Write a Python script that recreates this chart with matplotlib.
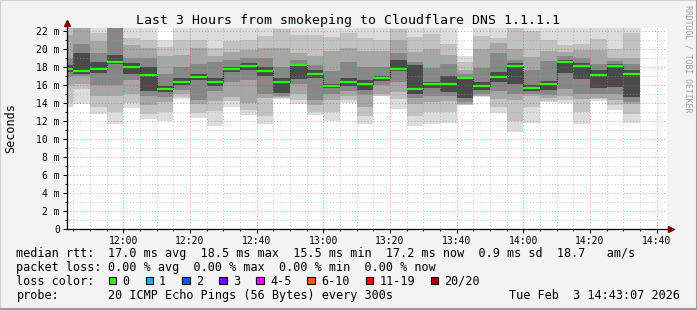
import numpy as np
import pandas as pd
import matplotlib
matplotlib.use('Agg')
import matplotlib.pyplot as plt
from matplotlib.ticker import MultipleLocator, FuncFormatter
from matplotlib.patches import Rectangle
from matplotlib.lines import Line2D

# start time of each 5 minute step (one smoke column each)
step_times = pd.date_range('2026-02-03 11:40', '2026-02-03 14:30', freq='5min')

# sorted ping times (ms) per step: 20 pings, we keep the band edges
ping_01 = [13.5, 13.85, 12.7, 11.6, 13.4, 12.2, 12.0, 14.4, 12.3, 11.4, 13.5, 12.6, 11.6, 14.4, 13.9, 12.6, 12.0, 14.0,
           11.6, 14.7, 13.3, 11.4, 11.6, 11.7, 13.7, 14.6, 12.9, 10.7, 11.8, 14.1, 14.0, 11.6, 14.2, 13.2, 11.8]
ping_03 = [14.0, 15.5, 13.5, 13.0, 14.0, 12.8, 13.0, 14.6, 12.9, 13.1, 14.2, 13.2, 12.5, 14.5, 14.3, 13.0, 13.0, 14.3,
           12.5, 14.8, 14.4, 12.5, 13.0, 13.0, 13.8, 14.7, 13.5, 12.0, 13.5, 14.2, 14.3, 13.0, 14.4, 13.8, 12.8]
ping_05 = [16.0, 16.1, 14.8, 14.7, 15.0, 13.7, 14.1, 15.0, 13.9, 14.2, 14.6, 14.0, 14.5, 14.6, 15.0, 13.8, 14.3, 14.7,
           13.5, 15.0, 15.2, 13.9, 14.1, 14.2, 13.9, 14.8, 14.4, 14.3, 14.8, 14.5, 14.8, 14.4, 14.5, 14.3, 13.9]
ping_07 = [16.9, 17.0, 16.0, 16.0, 16.5, 14.8, 14.6, 15.4, 14.3, 15.3, 16.3, 16.5, 15.0, 14.8, 16.1, 14.3, 15.0, 15.3,
           14.9, 16.0, 16.3, 14.5, 14.7, 14.8, 14.1, 15.0, 15.3, 15.0, 15.0, 14.9, 15.5, 15.0, 15.0, 15.0, 14.1]
ping_09 = [17.4, 17.2, 17.3, 18.3, 17.2, 15.3, 15.2, 16.0, 16.5, 15.9, 17.4, 17.6, 17.0, 15.1, 16.6, 16.8, 15.6, 15.9,
           15.4, 16.4, 17.5, 15.0, 15.6, 15.2, 14.5, 15.4, 16.3, 16.1, 15.3, 15.4, 17.3, 16.6, 15.6, 15.8, 14.6]
median_rtt = [17.8, 17.52, 17.78, 18.5, 18.0, 17.1, 15.56, 16.3, 16.9, 16.3, 17.78, 18.1, 17.5, 16.3, 18.2, 17.2, 15.85, 16.3,
              16.07, 16.8, 17.78, 15.52, 16.07, 16.07, 16.74, 15.85, 16.9, 18.1, 15.67, 16.07, 18.5, 18.07, 17.1, 18.07, 17.2]
ping_12 = [18.2, 19.5, 18.5, 19.3, 18.4, 18.0, 15.9, 16.7, 17.2, 16.8, 18.0, 18.4, 18.0, 16.8, 18.3, 17.6, 16.1, 16.8,
           16.5, 17.0, 18.8, 18.2, 16.3, 17.0, 16.9, 16.3, 17.4, 18.4, 16.0, 16.4, 18.8, 18.4, 17.6, 18.3, 17.6]
ping_14 = [19.0, 20.5, 19.5, 22.4, 19.0, 19.0, 17.2, 18.0, 18.3, 18.5, 18.7, 19.0, 19.0, 18.0, 18.8, 18.2, 17.5, 18.5,
           18.0, 18.0, 19.5, 18.5, 17.9, 18.3, 17.2, 17.9, 19.5, 18.7, 17.6, 18.6, 19.2, 19.0, 18.3, 18.6, 18.3]
ping_16 = [21.5, 23.0, 20.9, 23.0, 20.4, 20.1, 19.2, 19.3, 20.1, 19.2, 19.6, 19.9, 20.1, 20.1, 19.5, 19.2, 19.8, 20.1,
           19.8, 19.8, 21.0, 19.6, 20.0, 19.3, 17.6, 20.0, 20.6, 20.0, 19.1, 19.7, 19.6, 19.9, 19.9, 19.0, 19.0]
ping_18 = [23.0, 23.0, 21.8, 23.0, 21.2, 21.0, 20.2, 21.0, 21.0, 20.1, 20.9, 21.0, 21.4, 22.2, 21.5, 21.5, 21.3, 21.8,
           21.2, 21.0, 22.2, 21.3, 21.6, 20.5, 18.5, 21.4, 21.2, 22.8, 22.0, 21.0, 20.4, 20.5, 21.1, 20.0, 21.8]
ping_20 = [23.0, 23.0, 22.5, 23.0, 23.0, 23.0, 21.0, 23.0, 23.0, 23.0, 23.0, 23.0, 23.0, 23.0, 23.0, 23.0, 23.0, 23.0,
           23.0, 23.0, 23.0, 23.0, 23.0, 23.0, 19.2, 23.0, 23.0, 23.0, 23.0, 23.0, 23.0, 23.0, 23.0, 23.0, 23.0]

rtt_stats = ['17.0 ms avg', '18.5 ms max', '15.5 ms min', '17.2 ms now', '0.9 ms sd', '18.7   am/s']
loss_stats = ['0.00 % avg', '0.00 % max', '0.00 % min', '0.00 % now']
loss_labels = ['0', '1', '2', '3', '4-5', '6-10', '11-19', '20/20']
loss_colors = ['#26ff00', '#00b8ff', '#0059ff', '#7e00ff', '#ff00ff', '#ff5500', '#ff0000', '#a10000']
probe_text = '20 ICMP Echo Pings (56 Bytes) every 300s'
stamp_text = 'Tue Feb  3 14:43:07 2026'

W, H = 697, 310
MONO = 'DejaVu Sans Mono'
plt.rcParams['font.family'] = MONO


def fx(px):
    return px / W


def fy(py):
    return 1 - py / H


fig = plt.figure(figsize=(W / 100, H / 100), dpi=100, facecolor='#f3f3f3')
ax = fig.add_axes([fx(67), fy(228.7), 600 / W, 200.4 / H])
ax.set_facecolor('white')

# minutes since midnight
x = np.array([t.hour * 60 + t.minute for t in step_times], dtype=float)
t_end = 14 * 60 + 43 + 7 / 60

# smoke: outer bands light, inner bands dark
bands = [
    (ping_01, ping_20, '#dcdcdc'),
    (ping_03, ping_18, '#c2c2c2'),
    (ping_05, ping_16, '#a6a6a6'),
    (ping_07, ping_14, '#878787'),
    (ping_09, ping_12, '#4a4a4a'),
]
for lo, hi, col in bands:
    lo = np.array(lo)
    hi = np.array(hi)
    ax.bar(x, hi - lo, width=5, bottom=lo, align='edge', color=col,
           linewidth=0, antialiased=False, zorder=1)

# median line
med = np.array(median_rtt)
ax.step(np.r_[x, x[-1] + 5], np.r_[med, med[-1]], where='post', color='#202020',
        lw=0.8, ls=(0, (1, 1)), zorder=3)
ax.hlines(med, x, x + 5, color=loss_colors[0], lw=1.6, zorder=4)

ax.set_xlim(t_end - 180, t_end)
ax.set_ylim(0, 22.27)

ax.xaxis.set_major_locator(MultipleLocator(20))
ax.xaxis.set_minor_locator(MultipleLocator(5))
ax.yaxis.set_major_locator(MultipleLocator(2))
ax.yaxis.set_minor_locator(MultipleLocator(1))
ax.xaxis.set_major_formatter(FuncFormatter(lambda v, p: f"{int(v // 60)}:{int(round(v % 60)):02d}"))
ax.yaxis.set_major_formatter(FuncFormatter(lambda v, p: '0' if v == 0 else f"{v:.0f} m"))

ax.set_axisbelow(False)
ax.grid(which='major', color='#ff3030', alpha=0.5, lw=0.75, ls=(0, (1, 2)))
ax.grid(which='minor', color='#a0a0a0', alpha=0.55, lw=0.75, ls=(0, (1, 2)))

ax.tick_params(which='major', length=2.9, width=0.75, direction='out', labelsize=7, pad=2.2)
ax.tick_params(which='minor', length=1.4, width=0.75, direction='out')
ax.tick_params(axis='x', which='major', pad=2.5)
for s in ['top', 'right']:
    ax.spines[s].set_visible(False)
for s in ['left', 'bottom']:
    ax.spines[s].set_linewidth(0.9)
    ax.spines[s].set_zorder(5)

# axis arrows
ax.plot([0, 0], [1, 1.02], transform=ax.transAxes, color='black', lw=0.9, clip_on=False)
ax.plot([1, 1.003], [0, 0], transform=ax.transAxes, color='black', lw=0.9, clip_on=False)
ax.plot([0], [1.026], transform=ax.transAxes, marker='^', ms=4.5, color='#800000',
        mec='#800000', clip_on=False, zorder=6)
ax.plot([1.007], [0], transform=ax.transAxes, marker='>', ms=4.5, color='#800000',
        mec='#800000', clip_on=False, zorder=6)

# title and side texts
fig.text(fx(347.5), fy(24), 'Last 3 Hours from smokeping to Cloudflare DNS 1.1.1.1',
         ha='center', va='baseline', fontsize=9.5)
fig.text(fx(11), fy(128), 'Seconds', rotation=90, ha='center', va='center', fontsize=8.5)
fig.text(fx(688), fy(59), 'RRDTOOL / TOBI OETIKER', rotation=270, ha='center', va='center',
         fontsize=5.9, color='#a0a0a0')

# legend block
LS = 8.5
CW = 7.1
x0, x1 = 16.4, 107.6
base = [257.3, 271.3, 285.0, 299.0]

fig.text(fx(x0), fy(base[0]), 'median rtt:', fontsize=LS, va='baseline')
fig.text(fx(x1), fy(base[0]), '  '.join(rtt_stats), fontsize=LS, va='baseline')
fig.text(fx(x0), fy(base[1]), 'packet loss:', fontsize=LS, va='baseline')
fig.text(fx(x1), fy(base[1]), '  '.join(loss_stats), fontsize=LS, va='baseline')
fig.text(fx(x0), fy(base[2]), 'loss color:', fontsize=LS, va='baseline')
bx = 108.6
for lab, col in zip(loss_labels, loss_colors):
    fig.add_artist(Rectangle((fx(bx), fy(284.2)), 7.4 / W, 7.4 / H, transform=fig.transFigure,
                             facecolor=col, edgecolor='black', lw=0.8))
    fig.text(fx(bx + 13.6), fy(base[2]), lab, fontsize=LS, va='baseline')
    bx += (len(lab) + 4.2) * CW
fig.text(fx(x0), fy(base[3]), 'probe:', fontsize=LS, va='baseline')
fig.text(fx(x1), fy(base[3]), probe_text, fontsize=LS, va='baseline')
fig.text(fx(680), fy(base[3]), stamp_text, fontsize=LS, va='baseline', ha='right')

# image frame
fig.add_artist(Line2D([0, 0, 1], [0, 1, 1], transform=fig.transFigure, color='#d0d0d0', lw=1.5))
fig.add_artist(Line2D([0, 1, 1], [0.004, 0.004, 1], transform=fig.transFigure, color='#9c9c9c', lw=2.2))

fig.savefig('out.png', dpi=100, facecolor=fig.get_facecolor())
